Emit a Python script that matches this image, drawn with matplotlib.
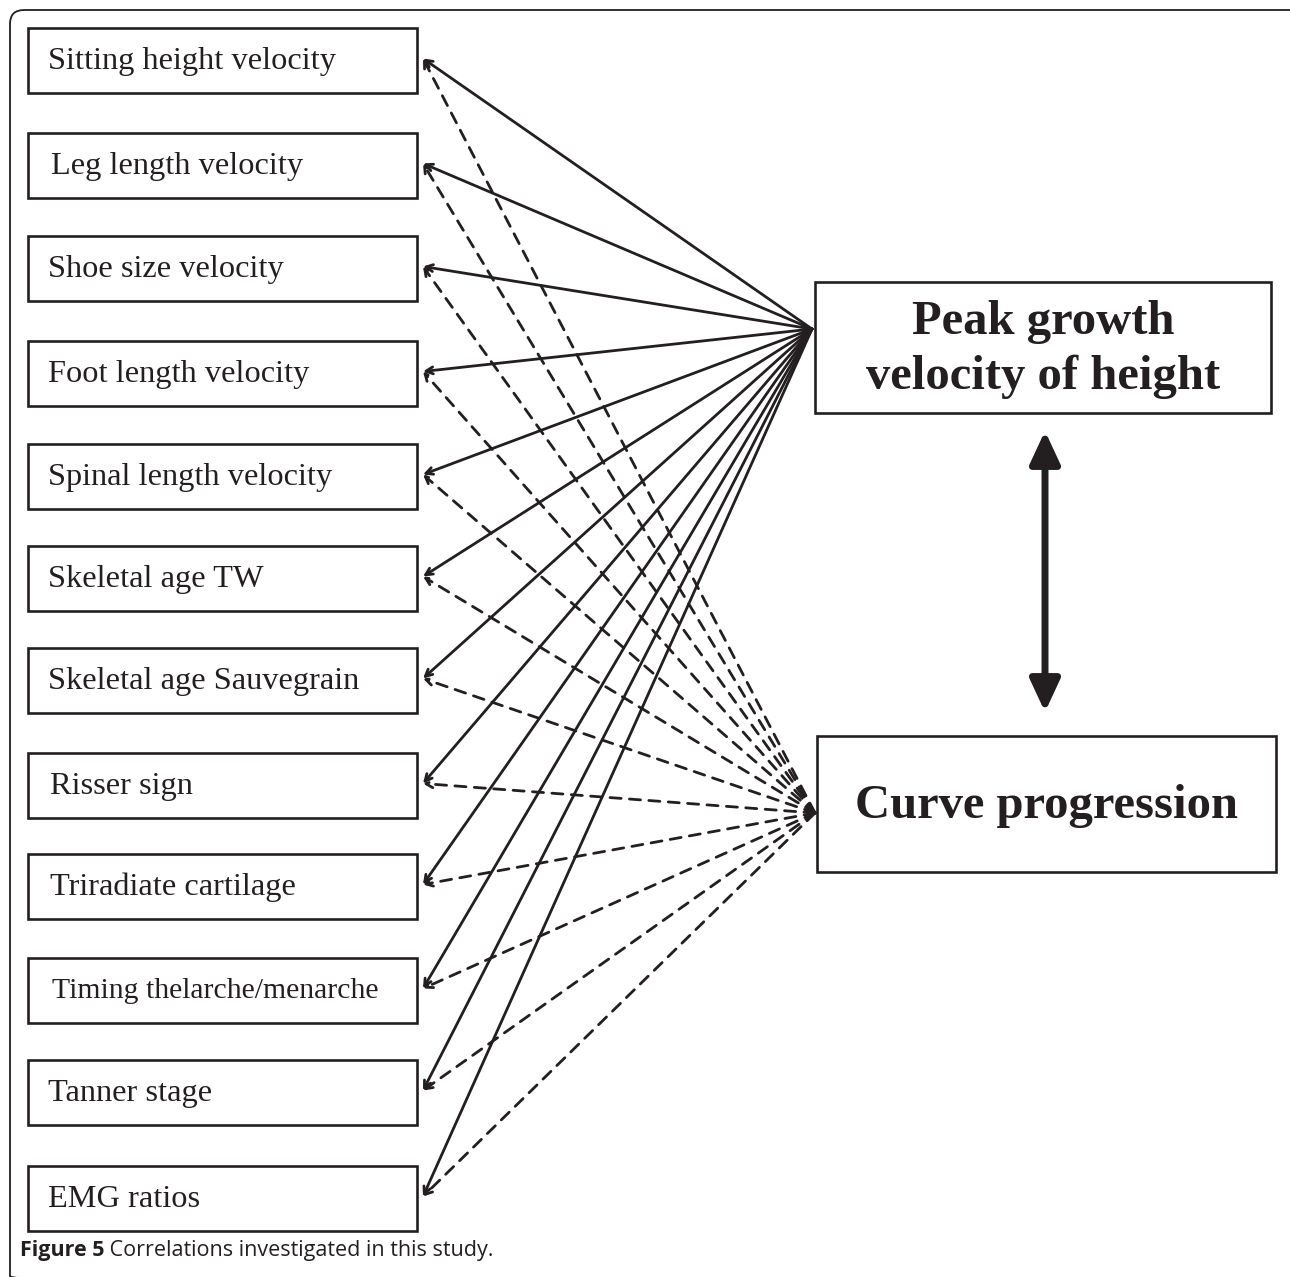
import matplotlib
matplotlib.use("Agg")
import matplotlib.pyplot as plt
from matplotlib.patches import Rectangle, FancyBboxPatch

# factors (left column) and the two outcomes they were correlated with
factors = ["Sitting height velocity", "Leg length velocity", "Shoe size velocity",
           "Foot length velocity", "Spinal length velocity", "Skeletal age TW",
           "Skeletal age Sauvegrain", "Risser sign", "Triradiate cartilage",
           "Timing thelarche/menarche", "Tanner stage", "EMG ratios"]
outcomes = ["Peak growth\nvelocity of height", "Curve progression"]
# 1 = correlation investigated (solid to first outcome, dashed to second)
link_pgv = [1] * 12
link_curve = [1] * 12
caption_bold = "Figure 5"
caption_rest = " Correlations investigated in this study"

# layout (pixels)
box_tops = [28, 133, 236, 341, 444, 546, 648, 753, 854, 958, 1060, 1166]
text_dx = [20, 23, 20, 20, 20, 20, 20, 22, 22, 24, 20, 20]
text_size = [23.3] * 9 + [21.4] + [23.3] * 2
box_x0, box_x1, box_h = 28, 417, 65
out_boxes = [(815, 282, 1271, 413), (817, 736, 1276, 872)]
hubs = [(812, 329), (815, 813)]
ink = "#231f20"

W, H = 1290, 1277
fig = plt.figure(figsize=(W / 100, H / 100), dpi=100)
ax = fig.add_axes([0, 0, 1, 1])
ax.set_xlim(0, W)
ax.set_ylim(H, 0)
ax.axis("off")

# outer rounded frame
ax.add_patch(FancyBboxPatch((10, 10), 1300, 1280, boxstyle="round,pad=0,rounding_size=14",
                            fc="none", ec=ink, lw=1.3))

for name, top, dx, fs in zip(factors, box_tops, text_dx, text_size):
    ax.add_patch(Rectangle((box_x0, top), box_x1 - box_x0, box_h, fc="white", ec=ink, lw=1.9))
    ax.text(box_x0 + dx, top + box_h / 2 + 1, name, family="Liberation Serif", fontsize=fs,
            color=ink, va="center", ha="left")

for (x0, y0, x1, y1), label in zip(out_boxes, outcomes):
    ax.add_patch(Rectangle((x0, y0), x1 - x0, y1 - y0, fc="white", ec=ink, lw=1.9))
    ax.text((x0 + x1) / 2, (y0 + y1) / 2 + 2, label, family="Liberation Serif",
            fontsize=35, fontweight="bold", color=ink, ha="center", va="center",
            linespacing=1.3)

for i, top in enumerate(box_tops):
    y = top + box_h / 2 - 2
    for links, hub, ls in [(link_pgv, hubs[0], "-"), (link_curve, hubs[1], (0, (4, 3)))]:
        if links[i]:
            ax.annotate("", xy=(423, y), xytext=hub,
                        arrowprops=dict(arrowstyle="->,head_length=0.5,head_width=0.25",
                                        color=ink, lw=2, linestyle=ls,
                                        shrinkA=0, shrinkB=0, mutation_scale=10))

# double-headed arrow between the two outcomes
ax.annotate("", xy=(1045, 431), xytext=(1045, 712),
            arrowprops=dict(arrowstyle="<|-|>,head_length=1.4,head_width=0.65",
                            color=ink, lw=5, shrinkA=0, shrinkB=0, mutation_scale=14))

t1 = ax.text(20, 1256, caption_bold, family="Open Sans", fontweight="bold",
             fontsize=15.5, color=ink, va="baseline")
fig.canvas.draw()
bb = t1.get_window_extent()
x_next = ax.transData.inverted().transform((bb.x1, 0))[0]
ax.text(x_next, 1256, caption_rest + ".", family="Open Sans", fontsize=15.5,
        color=ink, va="baseline")

fig.savefig("out.png", dpi=100, facecolor="white")
